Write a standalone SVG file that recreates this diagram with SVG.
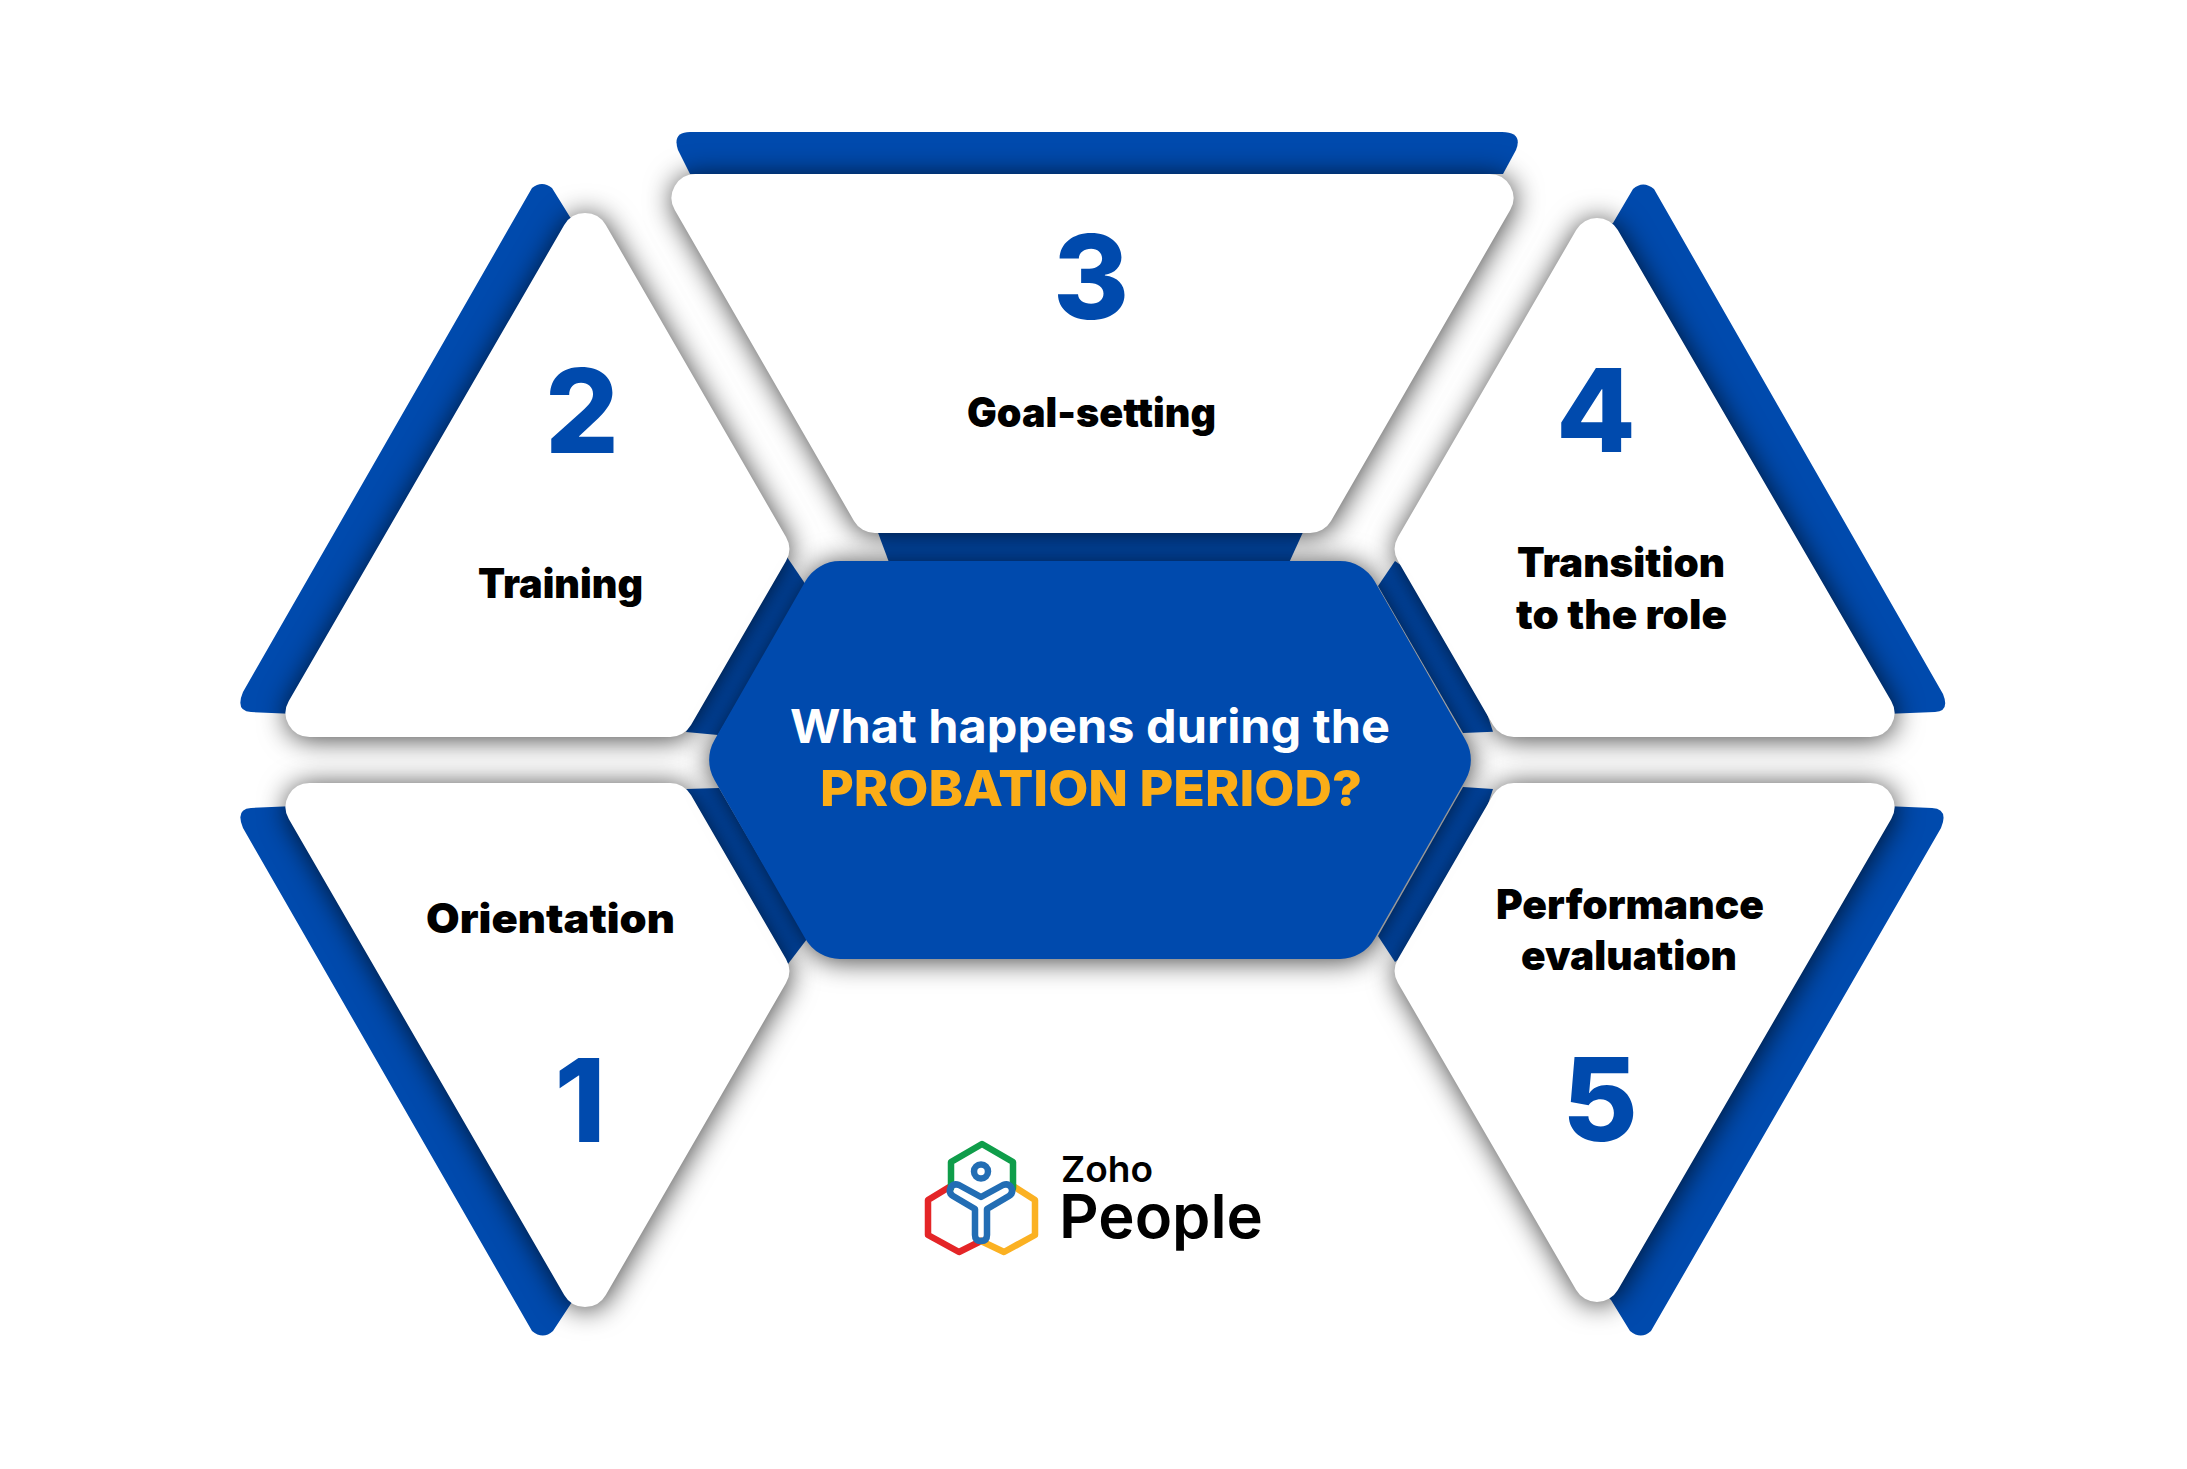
<svg xmlns="http://www.w3.org/2000/svg" width="2187" height="1469" viewBox="0 0 2187 1469">
<defs>
<filter id="sh" x="-20%" y="-20%" width="140%" height="140%" color-interpolation-filters="sRGB"><feDropShadow dx="1" dy="2" stdDeviation="14" flood-color="#000" flood-opacity="0.75"/></filter>
</defs>
<style>
.blue{fill:#004aad}
.card{fill:#fff;filter:url(#sh)}
.hex{fill:#004aad;filter:url(#sh)}
.num{font-family:Inter,"Liberation Sans",sans-serif;font-weight:800;font-size:116px;fill:#004aad}
.lab{font-family:Inter,"Liberation Sans",sans-serif;font-weight:900;font-size:41px;fill:#000}
.tt{font-family:Inter,"Liberation Sans",sans-serif;font-weight:700;font-size:47px;fill:#fff}
.tp{font-family:Inter,"Liberation Sans",sans-serif;font-weight:800;font-size:50px;fill:#fbad18}
.lg{fill:none;stroke-width:6.5;stroke-linecap:round;stroke-linejoin:round}
.brand{font-family:Inter,"Liberation Sans",sans-serif;font-weight:600;fill:#000}
</style>
<rect width="2187" height="1469" fill="#fff"/>
<g id="bands">
<path class="blue" d="M690,174 L678,150 Q672,132 690,132 L1502,132 Q1523,132 1516,150 L1503,174Z"/>
<path class="blue" d="M570,217 L552,188 Q542,180 532,188 L243,692 Q235,711 251,712 L295,714 L590,240Z"/>
<path class="blue" d="M572,1302 L553,1331 Q543,1340 532,1331 L243,828 Q235,809 251,808 L295,806 L590,1280Z"/>
<path class="blue" d="M1613,223 L1633,189 Q1643,180 1654,189 L1943,694 Q1950,711 1935,712 L1885,714 L1590,240Z"/>
<path class="blue" d="M1611,1300 L1630,1331 Q1641,1340 1651,1331 L1941,828 Q1949,809 1932,808 L1885,806 L1590,1280Z"/>
<path class="blue" d="M877,530 L1304,530 L1288,565 L890,565Z"/>
<path class="blue" d="M787,557 L806,585 L718,735 L686,732 L740,600Z"/>
<path class="blue" d="M788,964 L807,939 L719,788 L686,789 L740,920Z"/>
<path class="blue" d="M1395,561 L1378,586 L1463,733 L1493,731.7 L1450,600Z"/>
<path class="blue" d="M1395,962 L1378,936 L1463,787 L1493,789 L1450,920Z"/>
</g>
<g id="node-1">
<path class="card" d="M605.8,1295 L786,983 A24 24 0 0 0 786,959 L691,795 A24 24 0 0 0 670.1,783 L309.6,783 A24 24 0 0 0 288.8,819 L564.2,1295 A24 24 0 0 0 605.8,1295Z"/>
<text class="lab" x="426" y="933" textLength="249" lengthAdjust="spacingAndGlyphs">Orientation</text>
<text class="num" x="580" y="1141.5" text-anchor="middle">1</text>
</g>
<g id="node-2">
<path class="card" d="M605.8,225 L786,537 A24 24 0 0 1 786,561 L691,725 A24 24 0 0 1 670.1,737 L309.6,737 A24 24 0 0 1 288.8,701 L564.2,225 A24 24 0 0 1 605.8,225Z"/>
<text class="num" x="582" y="452.5" text-anchor="middle">2</text>
<text class="lab" x="478" y="598" textLength="165" lengthAdjust="spacingAndGlyphs">Training</text>
</g>
<g id="node-3">
<path class="card" d="M695.6,174 L1489.4,174 A24 24 0 0 1 1510.2,210 L1331,521 A24 24 0 0 1 1310.1,533 L874.9,533 A24 24 0 0 1 854,521 L674.8,210 A24 24 0 0 1 695.6,174Z"/>
<text class="num" x="1091" y="319" text-anchor="middle">3</text>
<text class="lab" x="967" y="426.5" textLength="249" lengthAdjust="spacingAndGlyphs">Goal-setting</text>
</g>
<g id="node-4">
<path class="card" d="M1576.2,230 L1398,537 A24 24 0 0 0 1398,561 L1493,725 A24 24 0 0 0 1513.9,737 L1870.4,737 A24 24 0 0 0 1891.2,701 L1617.8,230 A24 24 0 0 0 1576.2,230Z"/>
<text class="num" x="1596" y="452" text-anchor="middle">4</text>
<text class="lab" x="1517" y="577" textLength="208" lengthAdjust="spacingAndGlyphs">Transition</text>
<text class="lab" x="1516" y="629" textLength="211" lengthAdjust="spacingAndGlyphs">to the role</text>
</g>
<g id="node-5">
<path class="card" d="M1576.2,1290 L1398,983 A24 24 0 0 1 1398,959 L1493,795 A24 24 0 0 1 1513.9,783 L1870.4,783 A24 24 0 0 1 1891.2,819 L1617.8,1290 A24 24 0 0 1 1576.2,1290Z"/>
<text class="lab" x="1496" y="918.5" textLength="268" lengthAdjust="spacingAndGlyphs">Performance</text>
<text class="lab" x="1521" y="970" textLength="216" lengthAdjust="spacingAndGlyphs">evaluation</text>
<text class="num" x="1600" y="1141" text-anchor="middle">5</text>
</g>
<g id="center">
<path class="hex" d="M840,561 L1340,561 A40 40 0 0 1 1374.5,581 L1465.5,740 A40 40 0 0 1 1465.5,780 L1374.5,939 A40 40 0 0 1 1340,959 L840,959 A40 40 0 0 1 805.5,939 L714.5,780 A40 40 0 0 1 714.5,740 L805.5,581 A40 40 0 0 1 840,561Z"/>
<text class="tt" x="790" y="743" textLength="600" lengthAdjust="spacingAndGlyphs">What happens during the</text>
<text class="tp" x="820" y="806" textLength="542" lengthAdjust="spacingAndGlyphs">PROBATION PERIOD?</text>
</g>
<g id="logo">
<polyline class="lg" stroke="#e42527" points="951,1186 928,1200 928,1235 959,1252 981,1241"/>
<polyline class="lg" stroke="#fbb122" points="1013,1186 1035,1200 1035,1235 1004,1252 981,1241"/>
<polyline class="lg" stroke="#0f9d4a" points="951,1188 951,1162 982,1144 1013,1162 1013,1188"/>
<circle class="lg" stroke="#226db4" cx="981" cy="1171.5" r="7"/>
<path class="lg" stroke="#226db4" d="M959,1185 L981,1197 L1003,1185 Q1008,1183 1011,1187 Q1014,1193 1009,1196 L987,1209 L987,1235 Q987,1241 981,1241 Q975,1241 975,1235 L975,1209 L953,1196 Q948,1193 951,1187 Q954,1183 959,1185Z"/>
<text class="brand" x="1061" y="1182" font-size="36" textLength="92" lengthAdjust="spacingAndGlyphs">Zoho</text>
<text class="brand" x="1059" y="1238" font-size="61" textLength="204" lengthAdjust="spacingAndGlyphs">People</text>
</g>
</svg>
